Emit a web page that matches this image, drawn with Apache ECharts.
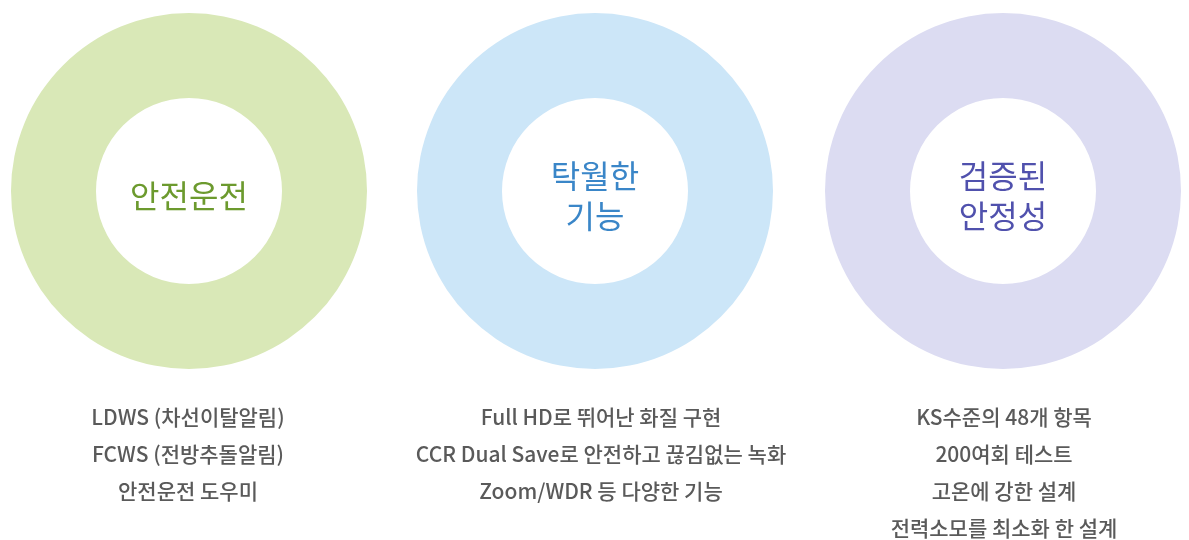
<!DOCTYPE html>
<html>
<head>
<meta charset="utf-8">
<script src="https://cdn.jsdelivr.net/npm/echarts@6/dist/echarts.min.js"></script>
<style>
  html, body { margin: 0; padding: 0; background: #fff; }
  #main { width: 1189px; height: 540px; }
</style>
</head>
<body>
<div id="main"></div>
<script>
// 세 개의 원 (이름 / 값)
var names = ['안전운전', '탁월한\n기능', '검증된\n안정성'];
var values = [100, 100, 100];
// 원 아래 설명
var descs = [
  ['LDWS (차선이탈알림)', 'FCWS (전방추돌알림)', '안전운전 도우미'],
  ['Full HD로 뛰어난 화질 구현', 'CCR Dual Save로 안전하고 끊김없는 녹화', 'Zoom/WDR 등 다양한 기능'],
  ['KS수준의 48개 항목', '200여회 테스트', '고온에 강한 설계', '전력소모를 최소화 한 설계']
];

var ringColors = ['#d9e8b7', '#cce6f8', '#dcdcf2'];
var textColors = ['#6c9a2e', '#3a86c8', '#5051ad'];
var centersX = [189, 595, 1003];
var descX = [188, 601, 1004];

var series = [];
var titles = [];
for (var i = 0; i < names.length; i++) {
  series.push({
    type: 'pie',
    center: [centersX[i], 191],
    radius: [93, 178],
    silent: true,
    animation: false,
    emphasis: { disabled: true },
    labelLine: { show: false },
    labelLayout: { dy: 5 },
    label: {
      show: true,
      position: 'center',
      formatter: '{b}',
      fontFamily: 'Noto Sans CJK KR',
      fontSize: 32,
      lineHeight: 40,
      color: textColors[i]
    },
    itemStyle: { color: ringColors[i] },
    data: [{ name: names[i], value: values[i] }]
  });
  titles.push({
    text: descs[i].join('\n'),
    left: descX[i],
    top: 399,
    padding: 0,
    textAlign: 'center',
    textStyle: {
      fontFamily: 'Noto Sans CJK KR',
      fontSize: 21,
      fontWeight: 500,
      lineHeight: 37,
      color: '#5a5a5a'
    }
  });
}

var chart = echarts.init(document.getElementById('main'));
chart.setOption({
  backgroundColor: '#fff',
  title: titles,
  series: series
});
</script>
</body>
</html>
